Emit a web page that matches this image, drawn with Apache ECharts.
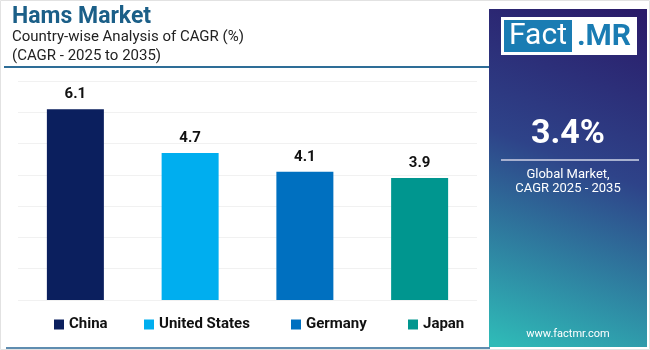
<!DOCTYPE html>
<html>
<head>
<meta charset="utf-8">
<script src="https://cdn.jsdelivr.net/npm/echarts@6/dist/echarts.min.js"></script>
<style>
    html, body { margin: 0; padding: 0; background: #fff; }
    #chart { width: 650px; height: 350px; }
</style>
</head>
<body>
<div id="chart"></div>
<script>
const countries = ["China", "United States", "Germany", "Japan"];
const cagr = [6.1, 4.7, 4.1, 3.9];
const barColors = ["#0b1f5e", "#00aeef", "#0070c0", "#00968f"];
const legendLeft = [49, 139, 286, 403];

const titleText = "Hams Market";
const subtitleLines = ["Country-wise Analysis of CAGR (%)", "(CAGR - 2025 to 2035)"];
const globalValue = "3.4%";
const globalLines = ["Global Market,", "CAGR 2025 - 2035"];

const font = "Roboto";

// one series per country so each gets its own legend entry, overlapped in place
const series = countries.map(function (name, i) {
    return {
        name: name,
        type: "bar",
        barWidth: 57,
        barGap: "-100%",
        itemStyle: { color: barColors[i] },
        label: {
            show: true,
            position: "top",
            distance: 7,
            color: "#111",
            fontFamily: font,
            fontWeight: "bold",
            fontSize: 15
        },
        data: countries.map(function (c, j) { return j === i ? cagr[i] : "-"; })
    };
});

const legends = countries.map(function (name, i) {
    return {
        data: [name],
        left: legendLeft[i],
        top: 312,
        icon: "rect",
        itemWidth: 10,
        itemHeight: 10,
        itemGap: 4,
        selectedMode: false,
        textStyle: { color: "#111", fontFamily: font, fontWeight: "bold", fontSize: 15 }
    };
});

const chart = echarts.init(document.getElementById("chart"), null, { renderer: "canvas" });
chart.setOption({
    animation: false,
    grid: { left: 18, right: 173, top: 81, bottom: 50 },
    legend: legends,
    xAxis: {
        type: "category",
        data: countries,
        axisLine: { show: false },
        axisTick: { show: false },
        axisLabel: { show: false }
    },
    yAxis: {
        type: "value",
        min: 0,
        max: 7,
        interval: 1,
        axisLabel: { show: false },
        axisLine: { show: false },
        splitLine: { lineStyle: { color: "#f1f1f1" } }
    },
    series: series,
    graphic: [
        // outer faint border
        { type: "rect", shape: { x: 0.5, y: 0.5, width: 649, height: 349 }, style: { fill: null, stroke: "#e2e2e2", lineWidth: 1 }, silent: true },
        // titles
        { type: "text", left: 12, top: 6, style: { text: titleText, fill: "#1b5f88", font: "bold 23px " + font } },
        { type: "text", left: 12, top: 30, style: { text: subtitleLines[0], fill: "#222", font: "15px " + font } },
        { type: "text", left: 12, top: 49, style: { text: subtitleLines[1], fill: "#222", font: "15px " + font } },
        { type: "line", shape: { x1: 4, y1: 67, x2: 490, y2: 67 }, style: { stroke: "#2e6d97", lineWidth: 2 } },
        { type: "line", shape: { x1: 6, y1: 348, x2: 490, y2: 348 }, style: { stroke: "#5f8db0", lineWidth: 2 } },
        // right panel
        {
            type: "rect",
            shape: { x: 489, y: 9, width: 158, height: 338 },
            style: {
                fill: new echarts.graphic.LinearGradient(0.9, 0, 0.1, 1, [
                    { offset: 0, color: "#2a1b69" },
                    { offset: 0.45, color: "#2e4389" },
                    { offset: 1, color: "#2fbab7" }
                ])
            }
        },
        { type: "rect", shape: { x: 501, y: 17, width: 136, height: 38 }, style: { fill: "#fff" } },
        { type: "rect", shape: { x: 504, y: 20, width: 68, height: 32 }, style: { fill: "#1a7cb3" } },
        { type: "text", x: 538, y: 36, style: { text: "Fact", fill: "#fff", font: "30px " + font, align: "center", verticalAlign: "middle" } },
        { type: "text", x: 604, y: 37, style: { text: ".MR", fill: "#1a7cb3", font: "bold 30px " + font, align: "center", verticalAlign: "middle" } },
        { type: "text", x: 568, y: 134, style: { text: globalValue, fill: "#fff", font: "bold 34px " + font, align: "center", verticalAlign: "middle" } },
        { type: "line", shape: { x1: 501, y1: 160, x2: 639, y2: 160 }, style: { stroke: "#a7b0cf", lineWidth: 2 } },
        { type: "text", x: 568, y: 175, style: { text: globalLines[0], fill: "#fff", font: "13px " + font, align: "center", verticalAlign: "middle" } },
        { type: "text", x: 568, y: 189, style: { text: globalLines[1], fill: "#fff", font: "13px " + font, align: "center", verticalAlign: "middle" } },
        { type: "text", x: 568, y: 334, style: { text: "www.factmr.com", fill: "#fff", font: "11px " + font, align: "center", verticalAlign: "middle" } }
    ]
});
</script>
</body>
</html>
